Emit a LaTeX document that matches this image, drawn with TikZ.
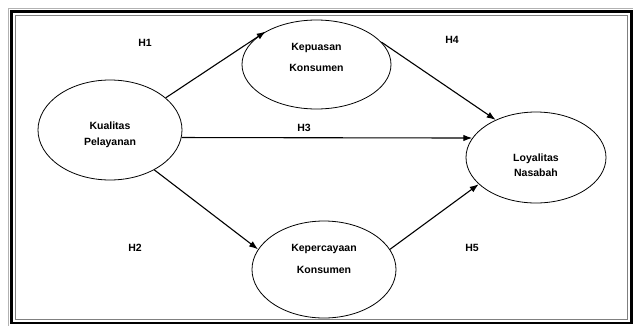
\documentclass[tikz,border=0pt]{standalone}
\usepackage{fontspec}
\setmainfont{Liberation Sans}
\usetikzlibrary{positioning,shapes.geometric,arrows.meta}
\tikzset{var/.style={draw,ellipse,inner sep=0pt,line width=0.8pt},
         txt/.style={font=\fontsize{10.5}{12}\selectfont\bfseries,align=center},
         hyp/.style={font=\fontsize{10.5}{12}\selectfont\bfseries},
         line/.style={-{Latex[length=9pt,width=6.5pt]},line width=1.1pt}
}

\begin{document}
\begin{tikzpicture}[x=1pt,y=-1pt]
\useasboundingbox (0,0) rectangle (633,325);

% frame
\draw[gray!60,line width=0.8pt] (8,8) rectangle (636,328);
\draw[line width=2.7pt] (11.3,11.3) rectangle (631.5,323);
\draw[gray,line width=0.8pt] (15,15) rectangle (627.5,319.5);

% variables
\node[var,minimum width=144pt,minimum height=100pt] (kp) at (110,130) {};
\node[var,minimum width=149pt,minimum height=89pt] (kep) at (316.5,64.5) {};
\node[var,minimum width=144pt,minimum height=97pt] (kpr) at (324,269.5) {};
\node[var,minimum width=140pt,minimum height=91pt] (loy) at (536,157.5) {};

\node[txt,yshift=-5pt] (kp-t) at (kp) {Kualitas\\[4.5pt]Pelayanan};
\node[txt,yshift=7pt] (kep-t) at (kep) {Kepuasan\\[9.5pt]Konsumen};
\node[txt,yshift=10.5pt] (kpr-t) at (kpr) {Kepercayaan\\[9.5pt]Konsumen};
\node[txt,yshift=-8pt] (loy-t) at (loy) {Loyalitas\\[3pt]Nasabah};

% hypotheses
\node[hyp] (h1) at (145,43) {H1};
\node[hyp] (h2) at (135,248) {H2};
\node[hyp] (h3) at (304,128) {H3};
\node[hyp] (h4) at (452,40) {H4};
\node[hyp] (h5) at (472,248) {H5};

\draw[line] (kp.30)--(kep.147);
\draw[line] (kp.-42)--(kpr.163);
\draw[line] (kp.-6)--(loy.163);
\draw[line] (kep.19)--(loy.137);
\draw[line] (kpr.17)--(loy.-155);

\end{tikzpicture}
\end{document}
